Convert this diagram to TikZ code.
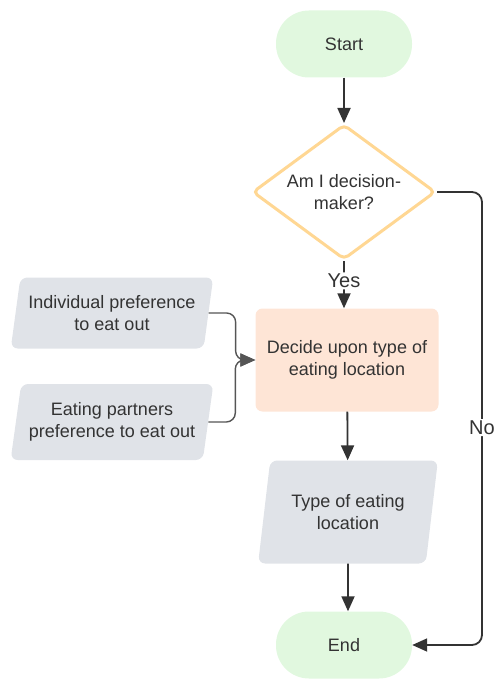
\documentclass[tikz,border=0pt]{standalone}
\usepackage{fontspec}
\setmainfont{Liberation Sans}
\usetikzlibrary{shapes.geometric,arrows.meta}
\definecolor{termfill}{HTML}{E1F8DF}
\definecolor{decborder}{HTML}{FFD793}
\definecolor{procfill}{HTML}{FEE5D6}
\definecolor{iofill}{HTML}{E0E3E8}
\definecolor{ink}{HTML}{333333}
\definecolor{softink}{HTML}{555555}

\begin{document}
\begin{tikzpicture}[x=1pt,y=-1pt,
  base/.style={font=\fontsize{18}{22}\selectfont, text=ink, align=center, inner sep=0pt},
  terminal/.style={base, fill=termfill, rounded corners=33pt, minimum width=136pt, minimum height=67pt},
  decision/.style={base, diamond, draw=decborder, line width=3pt, fill=white, rounded corners=5pt,
                   minimum width=183pt, minimum height=135pt, shape aspect=1.36},
  process/.style={base, fill=procfill, rounded corners=7pt, minimum width=183pt, minimum height=103pt},
  io/.style={base, trapezium, trapezium left angle=76, trapezium right angle=104,
             trapezium stretches=true, fill=iofill, rounded corners=7pt},
  flow/.style={draw=ink, line width=1.8pt, -{Triangle[length=15pt,width=13pt]}, rounded corners=10pt},
  merge/.style={draw=softink, line width=1.4pt, -{Triangle[length=15pt,width=13pt]}, rounded corners=9pt},
  lbl/.style={font=\fontsize{20}{22}\selectfont, text=ink, fill=white, inner sep=1.5pt}
]
\useasboundingbox (0,0) rectangle (495,679);

% shapes
\node[terminal] (start) at (344,44) {Start};
\node[decision] (dec) at (344,192) {Am I decision-\\maker?};
\node[process] (decide) at (347,360) {Decide upon type of\\eating location};
\node[io, minimum width=203pt, minimum height=71pt] (indiv) at (112,313) {Individual preference\\to eat out};
\node[io, minimum width=203pt, minimum height=76pt] (partner) at (112,422) {Eating partners\\preference to eat out};
\node[io, minimum width=180pt, minimum height=103pt] (kind) at (348,512) {Type of eating\\location};
\node[terminal] (end) at (344,645) {End};

% connectors
\draw[flow] (start) -- (dec);
\draw[flow] (dec.south) -- (dec.south |- decide.north) node[lbl, pos=0.42] (yes) {Yes};
\draw[merge] (indiv.east) -- ++(27,0) |- (decide.west);
\draw[merge] (partner.east) -- ++(27,0) |- (decide.west);
\draw[flow] (decide) -- (kind);
\draw[flow] (kind) -- (kind |- end.north);
\coordinate (noturn) at (482,192);
\draw[flow] (dec.east) -- (noturn) |- (end.east) node[lbl, pos=0.26] (no) {No};
\end{tikzpicture}
\end{document}
